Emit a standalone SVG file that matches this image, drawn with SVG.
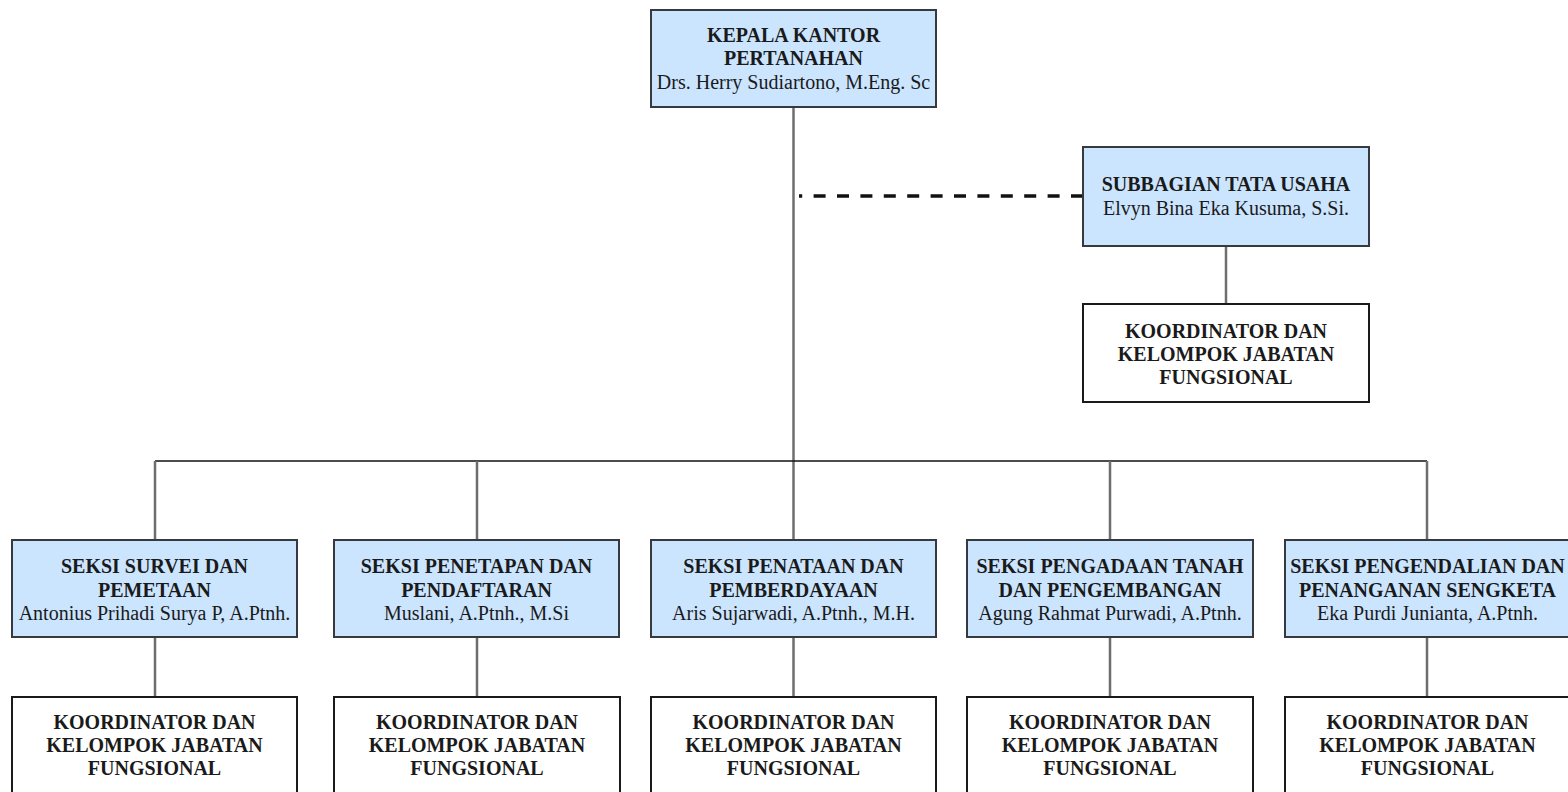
<svg xmlns="http://www.w3.org/2000/svg" width="1568" height="792" viewBox="0 0 1568 792">
<style>
.blue{fill:#cce5ff;stroke:#36393d;stroke-width:2}
.white{fill:#ffffff;stroke:#1a1a1a;stroke-width:2}
text{font-family:"Liberation Serif","Times New Roman",serif;font-size:20px;fill:#1a1a1a;text-anchor:middle}
.b{font-weight:bold}
.gray{stroke:#6e6e6e;stroke-width:2.5;fill:none}
.bus{stroke:#111111;stroke-width:1.6;fill:none}
.dash{stroke:#111111;stroke-width:3.5;fill:none;stroke-dasharray:12 11.4}
</style>
<rect width="1568" height="792" fill="#ffffff"/>
<g id="connectors">
<path class="gray" d="M793.5 107V540"/>
<path class="bus" d="M155 461H1427"/>
<path class="gray" d="M155 461V540M477 461V540M1110 461V540M1427 461V540"/>
<path class="dash" d="M1083 196H799"/>
<path class="gray" d="M1226 246V304"/>
<path class="gray" d="M155 638V697M477 638V697M793.5 638V697M1110 638V697M1427 638V697"/>
</g>
<g id="kepala">
<rect class="blue" x="651" y="10" width="285" height="97"/>
<text class="b" x="793.5" y="42">KEPALA KANTOR</text>
<text class="b" x="793.5" y="65">PERTANAHAN</text>
<text x="793.5" y="89">Drs. Herry Sudiartono, M.Eng. Sc</text>
</g>
<g id="subbagian">
<rect class="blue" x="1083" y="147" width="286" height="99"/>
<text class="b" x="1226" y="191">SUBBAGIAN TATA USAHA</text>
<text x="1226" y="215">Elvyn Bina Eka Kusuma, S.Si.</text>
</g>
<g id="koord-tu">
<rect class="white" x="1083" y="304" width="286" height="98"/>
<text class="b" x="1226" y="338">KOORDINATOR DAN</text>
<text class="b" x="1226" y="361">KELOMPOK JABATAN</text>
<text class="b" x="1226" y="384">FUNGSIONAL</text>
</g>
<g id="seksi-survei">
<rect class="blue" x="12" y="540" width="285" height="97"/>
<text class="b" x="154.5" y="573">SEKSI SURVEI DAN</text>
<text class="b" x="154.5" y="597">PEMETAAN</text>
<text x="154.5" y="620">Antonius Prihadi Surya P, A.Ptnh.</text>
</g>
<g id="seksi-penetapan">
<rect class="blue" x="334" y="540" width="285" height="97"/>
<text class="b" x="476.5" y="573">SEKSI PENETAPAN DAN</text>
<text class="b" x="476.5" y="597">PENDAFTARAN</text>
<text x="476.5" y="620">Muslani, A.Ptnh., M.Si</text>
</g>
<g id="seksi-penataan">
<rect class="blue" x="651" y="540" width="285" height="97"/>
<text class="b" x="793.5" y="573">SEKSI PENATAAN DAN</text>
<text class="b" x="793.5" y="597">PEMBERDAYAAN</text>
<text x="793.5" y="620">Aris Sujarwadi, A.Ptnh., M.H.</text>
</g>
<g id="seksi-pengadaan">
<rect class="blue" x="967" y="540" width="286" height="97"/>
<text class="b" x="1110" y="573">SEKSI PENGADAAN TANAH</text>
<text class="b" x="1110" y="597">DAN PENGEMBANGAN</text>
<text x="1110" y="620">Agung Rahmat Purwadi, A.Ptnh.</text>
</g>
<g id="seksi-pengendalian">
<rect class="blue" x="1285" y="540" width="285" height="97"/>
<text class="b" x="1427.5" y="573">SEKSI PENGENDALIAN DAN</text>
<text class="b" x="1427.5" y="597">PENANGANAN SENGKETA</text>
<text x="1427.5" y="620">Eka Purdi Junianta, A.Ptnh.</text>
</g>
<g id="koord-1">
<rect class="white" x="12" y="697" width="285" height="100"/>
<text class="b" x="154.5" y="729">KOORDINATOR DAN</text>
<text class="b" x="154.5" y="752">KELOMPOK JABATAN</text>
<text class="b" x="154.5" y="775">FUNGSIONAL</text>
</g>
<g id="koord-2">
<rect class="white" x="334" y="697" width="286" height="100"/>
<text class="b" x="477" y="729">KOORDINATOR DAN</text>
<text class="b" x="477" y="752">KELOMPOK JABATAN</text>
<text class="b" x="477" y="775">FUNGSIONAL</text>
</g>
<g id="koord-3">
<rect class="white" x="651" y="697" width="285" height="100"/>
<text class="b" x="793.5" y="729">KOORDINATOR DAN</text>
<text class="b" x="793.5" y="752">KELOMPOK JABATAN</text>
<text class="b" x="793.5" y="775">FUNGSIONAL</text>
</g>
<g id="koord-4">
<rect class="white" x="967" y="697" width="286" height="100"/>
<text class="b" x="1110" y="729">KOORDINATOR DAN</text>
<text class="b" x="1110" y="752">KELOMPOK JABATAN</text>
<text class="b" x="1110" y="775">FUNGSIONAL</text>
</g>
<g id="koord-5">
<rect class="white" x="1285" y="697" width="285" height="100"/>
<text class="b" x="1427.5" y="729">KOORDINATOR DAN</text>
<text class="b" x="1427.5" y="752">KELOMPOK JABATAN</text>
<text class="b" x="1427.5" y="775">FUNGSIONAL</text>
</g>
</svg>
